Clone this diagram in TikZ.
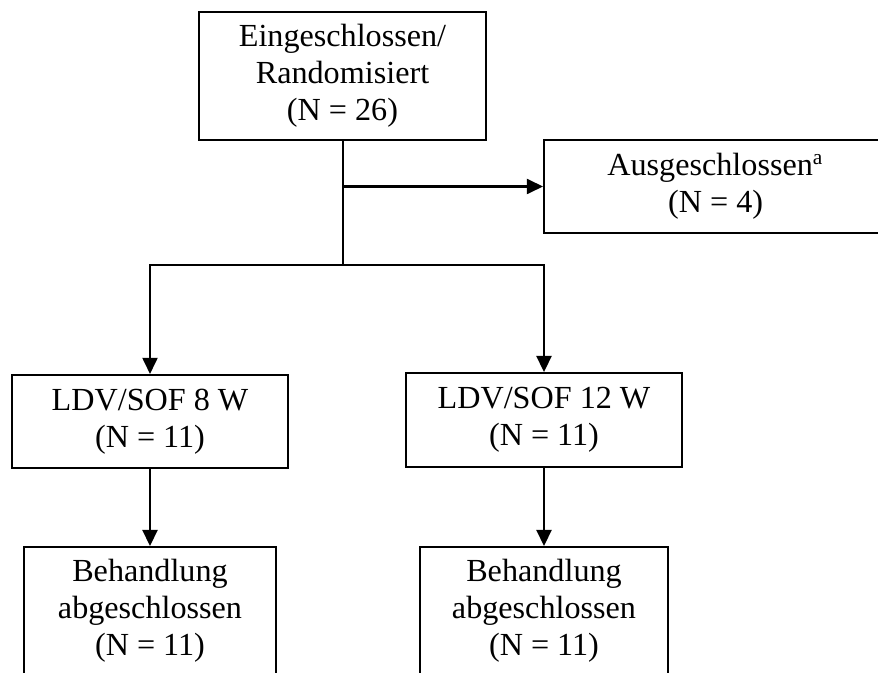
\documentclass[tikz,border=0pt]{standalone}
\usepackage{fontspec}
\setmainfont{Liberation Serif}
\usetikzlibrary{arrows.meta}

\begin{document}
\begin{tikzpicture}[x=0.373pt,y=-0.373pt,line width=0.75pt,
  every node/.style={font=\fontsize{12}{13.8}\selectfont},
  flowbox/.style={draw,line width=0.75pt,align=center,inner sep=0pt},
  flow/.style={-{Triangle[length=6pt,width=5.6pt]}}]
  \useasboundingbox (0,0) rectangle (878,673);
  \clip (0,0) rectangle (878,673);
  % boxes
  \node[flowbox,minimum width=107pt,minimum height=47.7pt] (rand) at (342.5,76) {Eingeschlossen/\\Randomisiert\\(N = 26)};
  \node[flowbox,minimum width=128pt,minimum height=34.7pt,anchor=west] (excl) at (543,186.5) {Ausgeschlossen\textsuperscript{a}\\(N = 4)};
  \node[flowbox,minimum width=103pt,minimum height=34.7pt] (arm8) at (150,421.5) {LDV/SOF 8 W\\(N = 11)};
  \node[flowbox,minimum width=103pt,minimum height=35pt] (arm12) at (544,420) {LDV/SOF 12 W\\(N = 11)};
  \node[flowbox,minimum width=94pt,minimum height=47.7pt] (done8) at (150,611) {Behandlung\\abgeschlossen\\(N = 11)};
  \node[flowbox,minimum width=92.5pt,minimum height=47.7pt] (done12) at (544,611) {Behandlung\\abgeschlossen\\(N = 11)};
  % connectors
  \coordinate (fork) at (rand.south |- excl.west);
  \coordinate (split) at (342.5,265);
  \draw (rand.south) -- (split);
  \draw[flow] (fork) -- (excl.west);
  \draw[flow] (split) -| (arm8.north);
  \draw[flow] (split) -| (arm12.north);
  \draw[flow] (arm8.south) -- (done8.north);
  \draw[flow] (arm12.south) -- (done12.north);
\end{tikzpicture}
\end{document}
